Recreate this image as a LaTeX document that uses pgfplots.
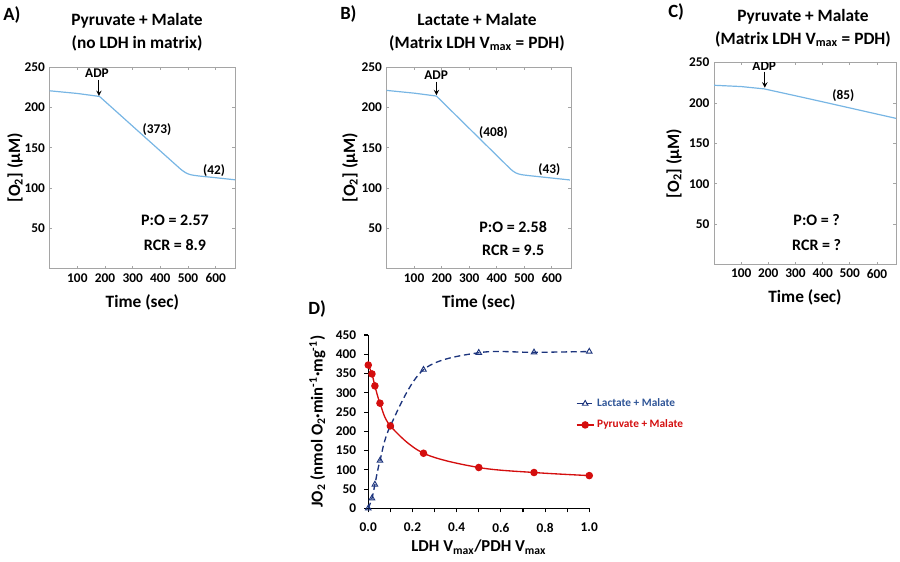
\documentclass[border=0pt]{standalone}
\usepackage{pgfplots}
\pgfplotsset{compat=1.18}
\usepackage{fontspec}
\setmainfont{Carlito}
\definecolor{o2blue}{RGB}{120,182,228}
\definecolor{lacblue}{RGB}{28,52,125}
\definecolor{pyrred}{RGB}{212,14,14}
\definecolor{legblue}{RGB}{47,85,151}
\definecolor{boxgray}{RGB}{165,165,165}
\tikzset{
  ann/.style={font=\fontsize{10}{12}\selectfont\bfseries},
  big/.style={font=\fontsize{12}{14}\selectfont\bfseries},
}
\pgfplotsset{
  o2axis/.style={
    anchor=south west, scale only axis,
    xmin=0, xmax=670, ymin=0, ymax=250,
    xtick={100,200,300,400,500,600}, ytick={50,100,150,200,250},
    axis line style={boxgray, line width=0.6pt},
    tick style={boxgray, line width=0.5pt}, major tick length=2pt,
    tick label style={font=\fontsize{10}{12}\selectfont\bfseries},
    /pgf/number format/assume math mode=true,
    label style={font=\fontsize{13}{15}\selectfont\bfseries},
    xlabel={Time (sec)},
    ylabel={[O\textsubscript{2}] (μM)},
  },
}
\begin{document}
\begin{tikzpicture}
\useasboundingbox (0pt,0pt) rectangle (675pt,420.75pt);
% panel labels and titles
\node[anchor=west, font=\fontsize{14}{16}\selectfont\bfseries, inner sep=0pt] at (2.25pt,409.5pt) {A)};
\node[anchor=west, font=\fontsize{14}{16}\selectfont\bfseries, inner sep=0pt] at (255pt,410.25pt) {B)};
\node[anchor=west, font=\fontsize{14}{16}\selectfont\bfseries, inner sep=0pt] at (501pt,411.75pt) {C)};
\node[anchor=west, font=\fontsize{14}{16}\selectfont\bfseries, inner sep=0pt] at (231pt,189pt) {D)};
\node[align=center, font=\fontsize{13}{17.25}\selectfont\bfseries, inner sep=0pt] at (102.75pt,396.4pt) {Pyruvate + Malate\\(no LDH in matrix)};
\node[align=center, font=\fontsize{13}{17.25}\selectfont\bfseries, inner sep=0pt] at (357.75pt,396.75pt) {Lactate + Malate\\(Matrix LDH V\textsubscript{max} = PDH)};
\node[align=center, font=\fontsize{13}{17.25}\selectfont\bfseries, inner sep=0pt] at (602.25pt,399.75pt) {Pyruvate + Malate\\(Matrix LDH V\textsubscript{max} = PDH)};

% ---------- A ----------
\begin{axis}[o2axis, at={(37.28pt,219.2pt)}, width=139pt, height=151.3pt,
  xlabel style={at={(axis description cs:0.5,-0.165)}, anchor=center},
  ylabel style={at={(axis description cs:-0.187,0.5)}, anchor=center}]
\addplot[o2blue, line width=0.9pt] coordinates {
(0,220.5) (100,217.2) (180,213.5) (250,192) (300,176.6) (400,145.9) (470,124.4)
(480,121.6) (490,119.3) (500,117.6) (510,116.5) (520,115.8) (540,114.9) (600,112.8) (670,110.2)};
\node[ann] at (axis cs:171,242) {ADP};
\draw[-stealth, line width=0.8pt] (axis cs:178,234) -- (axis cs:178,214);
\node[ann] at (axis cs:388,172) {(373)};
\node[ann] at (axis cs:594,122) {(42)};
\node[big] at (axis cs:453,60) {P:O = 2.57};
\node[big] at (axis cs:453,29) {RCR = 8.9};
\end{axis}

% ---------- B ----------
\begin{axis}[o2axis, at={(289.95pt,219.2pt)}, width=138.3pt, height=151.3pt,
  xlabel style={at={(axis description cs:0.5,-0.165)}, anchor=center},
  ylabel style={at={(axis description cs:-0.198,0.5)}, anchor=center}]
\addplot[o2blue, line width=0.9pt] coordinates {
(0,221) (100,217.6) (181,214) (250,190.8) (300,174) (400,140.4) (450,123.6)
(460,120.8) (470,118.7) (480,117.4) (490,116.6) (500,116.1) (520,115.3) (600,112.4) (666,110)};
\node[ann] at (axis cs:180,240) {ADP};
\draw[-stealth, line width=0.8pt] (axis cs:181,232) -- (axis cs:181,215);
\node[ann] at (axis cs:388,169) {(408)};
\node[ann] at (axis cs:591,123) {(43)};
\node[big] at (axis cs:460,52) {P:O = 2.58};
\node[big] at (axis cs:460,23) {RCR = 9.5};
\end{axis}

% ---------- C ----------
\begin{axis}[o2axis, at={(535.5pt,222.4pt)}, width=136.5pt, height=151.35pt,
  xlabel style={at={(axis description cs:0.5,-0.161)}, anchor=center},
  ylabel style={at={(axis description cs:-0.22,0.5)}, anchor=center}]
\addplot[o2blue, line width=0.9pt] coordinates {
(0,222) (100,220.4) (185,217.5) (300,209) (400,201.5) (500,193.9) (600,186.3) (670,181)};
\node[ann] at (axis cs:185,246) {ADP};
\draw[-stealth, line width=0.8pt] (axis cs:187,239) -- (axis cs:187,219);
\node[ann] at (axis cs:476,209) {(85)};
\node[big] at (axis cs:378,55) {P:O = ?};
\node[big] at (axis cs:378,24) {RCR = ?};
\end{axis}

% ---------- D ----------
\begin{axis}[anchor=south west, at={(276.2pt,39.5pt)}, scale only axis,
  width=165.75pt, height=130pt,
  xmin=0, xmax=1, ymin=0, ymax=450, clip=false,
  axis x line=bottom, axis y line=left,
  axis line style={-, black, line width=0.8pt},
  tick align=outside, major tick length=3pt,
  tick style={black, line width=0.8pt},
  xtick={0,0.1,0.2,0.3,0.4,0.5,0.6,0.7,0.8,0.9,1},
  xticklabels={0.0,,0.2,,0.4,,0.6,,0.8,,1.0},
  ytick={0,50,100,150,200,250,300,350,400,450},
  tick label style={font=\fontsize{10}{12}\selectfont\bfseries},
  xticklabel style={yshift=-4.5pt},
  yticklabel style={xshift=-2.5pt},
  /pgf/number format/assume math mode=true,
  label style={font=\fontsize{12.5}{15}\selectfont\bfseries},
  xlabel={LDH V\textsubscript{max}/PDH V\textsubscript{max}},
  ylabel={JO\textsubscript{2} (nmol O\textsubscript{2}·min\textsuperscript{-1}·mg\textsuperscript{-1})},
  xlabel style={at={(axis description cs:0.5,-0.225)}, anchor=center},
  ylabel style={at={(axis description cs:-0.23,0.5)}, anchor=center},
  legend style={at={(0.92,0.665)}, anchor=north west, draw=none, fill=none,
    font=\fontsize{8.5}{10}\selectfont\bfseries, row sep=4.5pt,
    cells={anchor=west}},
  legend image code/.code={\draw[mark repeat=2,mark phase=2,#1] plot coordinates {(0pt,0pt) (6.5pt,0pt) (13pt,0pt)};},
]
\addplot[lacblue, line width=1pt, dash pattern=on 4.5pt off 2.8pt, smooth, tension=0.55,
  mark=triangle, mark size=2.4pt, mark options={solid, line width=0.7pt}] coordinates {
(0,0) (0.0167,26) (0.03,62) (0.053,124) (0.1,214) (0.25,360) (0.5,404) (0.75,405) (1.0,407)};
\addlegendentry{\textcolor{legblue}{Lactate + Malate}}
\addplot[pyrred, line width=1pt, smooth, tension=0.55,
  mark=*, mark size=2.3pt, mark options={solid}] coordinates {
(0,372) (0.0167,349) (0.03,318) (0.053,273) (0.1,214) (0.25,143) (0.5,106) (0.75,93) (1.0,85)};
\addlegendentry{\textcolor{pyrred}{Pyruvate + Malate}}
\end{axis}
\end{tikzpicture}
\end{document}
